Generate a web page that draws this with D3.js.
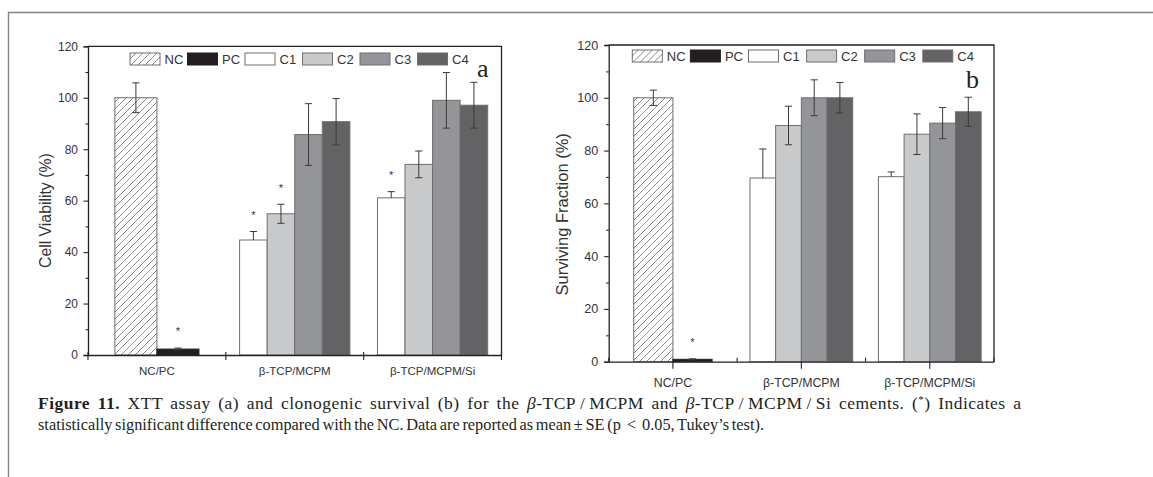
<!DOCTYPE html>
<html>
<head>
<meta charset="utf-8">
<script src="https://cdn.jsdelivr.net/npm/d3@7/dist/d3.min.js"></script>
<style>
  body { margin: 0; background: #fff; }
  svg { display: block; }
</style>
</head>
<body>
<svg id="svg" width="1153" height="477"></svg>
<script>
//グループ名・系列名
const groups = ["NC/PC", "β-TCP/MCPM", "β-TCP/MCPM/Si"];
const ctrlSeries = ["NC", "PC"];
const cementSeries = ["C1", "C2", "C3", "C4"];
const legendSeries = ["NC", "PC", "C1", "C2", "C3", "C4"];
const yTicks = [0, 20, 40, 60, 80, 100, 120];

// (a) XTT assay : 値と誤差
const viabilityCtrl = [100, 2.3];
const viabilityCtrlErr = [5.8, 0.4];
const viabilityMCPM = [44.7, 54.9, 85.7, 90.7];
const viabilityMCPMErr = [3.3, 3.7, 12.0, 9.0];
const viabilitySi = [61.1, 74.1, 99.0, 97.1];
const viabilitySiErr = [2.4, 5.2, 10.8, 8.9];
// 有意差（*）のある棒 [group, series]
const viabilitySig = [["NC/PC", "PC"], ["β-TCP/MCPM", "C1"], ["β-TCP/MCPM", "C2"], ["β-TCP/MCPM/Si", "C1"]];

// (b) clonogenic survival : 値と誤差
const survivalCtrl = [100, 0.9];
const survivalCtrlErr = [2.9, 0.2];
const survivalMCPM = [69.6, 89.5, 100, 100];
const survivalMCPMErr = [11.0, 7.3, 6.8, 5.8];
const survivalSi = [70.1, 86.2, 90.4, 94.7];
const survivalSiErr = [1.8, 7.7, 5.9, 5.5];
const survivalSig = [["NC/PC", "PC"]];

// C1 は上側の誤差棒のみ
const plusOnly = ["C1"];

const fills = { NC: "url(#hatch)", PC: "#231f20", C1: "#ffffff", C2: "#c9cacc", C3: "#949598", C4: "#636366" };

const svg = d3.select("#svg");

//斜線パターン
const defs = svg.append("defs");
defs.append("pattern")
  .attr("id", "hatch")
  .attr("patternUnits", "userSpaceOnUse")
  .attr("width", 7)
  .attr("height", 7)
  .call((p) => {
    p.append("rect").attr("width", 7).attr("height", 7).attr("fill", "#fff");
    p.append("path")
      .attr("d", "M-1,1 l2,-2 M0,7 l7,-7 M6,8 l2,-2")
      .attr("stroke", "#6a6a6a")
      .attr("stroke-width", 0.8);
  });

//外枠（上と左）
svg.append("path")
  .attr("d", "M8.5,477 L8.5,12.5 L1153,12.5")
  .attr("fill", "none")
  .attr("stroke", "#858585")
  .attr("stroke-width", 1.4);

//データを行にまとめる
function makeRows(ctrl, ctrlErr, mcpm, mcpmErr, si, siErr, sig) {
  const rows = [];
  ctrlSeries.forEach((s, i) => rows.push({ g: groups[0], s, v: ctrl[i], e: ctrlErr[i] }));
  cementSeries.forEach((s, i) => rows.push({ g: groups[1], s, v: mcpm[i], e: mcpmErr[i] }));
  cementSeries.forEach((s, i) => rows.push({ g: groups[2], s, v: si[i], e: siErr[i] }));
  rows.forEach((r) => (r.sig = sig.some(([g, s]) => g == r.g && s == r.s)));
  return rows;
}

//パネルを描画する
function drawPanel(cfg) {
  const { rows, left, right, top, bottom } = cfg;
  const panel = svg.append("g");

  const x = d3.scaleBand().domain(groups).range([left, right]).padding(0);
  const y = d3.scaleLinear().domain([0, 120]).range([bottom, top]);

  //グループ内の位置
  const inner = {};
  groups.forEach((g, i) => {
    const names = i == 0 ? ctrlSeries : cementSeries;
    const frac = i == 0 ? 0.61 : 0.8;
    const w = x.bandwidth() * frac;
    const c = x(g) + x.bandwidth() / 2;
    inner[g] = d3.scaleBand().domain(names).range([c - w / 2, c + w / 2]).padding(0);
  });

  //棒
  panel.selectAll(".bar")
    .data(rows)
    .join("rect")
    .attr("class", "bar")
    .attr("x", (d) => inner[d.g](d.s))
    .attr("y", (d) => y(d.v))
    .attr("width", (d) => inner[d.g].bandwidth())
    .attr("height", (d) => y(0) - y(d.v))
    .attr("fill", (d) => fills[d.s])
    .attr("stroke", (d) => (d.s == "PC" ? "#231f20" : "#6e6e6e"))
    .attr("stroke-width", 1);

  //誤差棒
  const cap = 3.6;
  const eb = panel.selectAll(".err")
    .data(rows)
    .join("g")
    .attr("class", "err")
    .attr("stroke", "#3a3a3a")
    .attr("stroke-width", 1)
    .attr("transform", (d) => `translate(${inner[d.g](d.s) + inner[d.g].bandwidth() / 2},0)`);
  eb.append("path")
    .attr("fill", "none")
    .attr("d", (d) => {
      const lo = plusOnly.includes(d.s) ? d.v : d.v - d.e;
      const y1 = y(d.v + d.e), y0 = y(lo);
      let p = `M0,${y0} L0,${y1} M${-cap},${y1} L${cap},${y1}`;
      if (!plusOnly.includes(d.s)) p += ` M${-cap},${y0} L${cap},${y0}`;
      return p;
    });

  //有意差マーク
  panel.selectAll(".star")
    .data(rows.filter((d) => d.sig))
    .join("text")
    .attr("class", "star")
    .attr("x", (d) => inner[d.g](d.s) + inner[d.g].bandwidth() / 2)
    .attr("y", (d) => y(d.v + d.e) - 19 + 6.4)
    .attr("text-anchor", "middle")
    .attr("font-family", "Liberation Sans, Arial, sans-serif")
    .attr("font-size", 11)
    .attr("fill", "#333")
    .text("*");

  //枠（上・右）
  panel.append("path")
    .attr("d", `M${left},${top} L${right},${top} L${right},${bottom}`)
    .attr("fill", "none")
    .attr("stroke", "#222")
    .attr("stroke-width", 1.3);

  //Y軸
  const yAxis = panel.append("g")
    .attr("transform", `translate(${left},0)`)
    .call(d3.axisLeft(y).tickValues(yTicks).tickSize(4.5).tickPadding(cfg.yPad));
  panel.append("g")
    .attr("transform", `translate(${left},0)`)
    .call(d3.axisLeft(y).tickValues(d3.range(10, 120, 20)).tickSize(2.5).tickFormat(""))
    .call((g) => g.select(".domain").remove());

  //X軸（ラベルのみ）
  const xAxis = panel.append("g")
    .attr("transform", `translate(0,${bottom})`)
    .call(d3.axisBottom(x).tickSize(0).tickPadding(cfg.xPad));
  xAxis.selectAll(".tick line").remove();

  [yAxis, xAxis].forEach((a) => {
    a.select(".domain").attr("stroke", "#222").attr("stroke-width", 1.3);
    a.selectAll("text")
      .attr("font-family", "Liberation Sans, Arial, sans-serif")
      .attr("fill", "#333");
  });
  yAxis.selectAll("text").attr("font-size", cfg.yFont);
  xAxis.selectAll("text").attr("font-size", cfg.xFont);
  panel.selectAll(".tick line").attr("stroke", "#222").attr("stroke-width", 1.1);

  //X軸の目盛り
  const bounds = d3.range(groups.length + 1).map((i) => left + x.step() * i);
  const centers = groups.map((g) => x(g) + x.bandwidth() / 2);
  panel.selectAll(".xb")
    .data(bounds)
    .join("line")
    .attr("x1", (d) => d).attr("x2", (d) => d)
    .attr("y1", bottom + cfg.boundTick[0]).attr("y2", bottom + cfg.boundTick[1])
    .attr("stroke", "#222").attr("stroke-width", 1.1);
  panel.selectAll(".xc")
    .data(centers)
    .join("line")
    .attr("x1", (d) => d).attr("x2", (d) => d)
    .attr("y1", bottom + cfg.centerTick[0]).attr("y2", bottom + cfg.centerTick[1])
    .attr("stroke", "#222").attr("stroke-width", 1.1);

  //Y軸タイトル
  panel.append("text")
    .attr("transform", `translate(${cfg.titleX},${(top + bottom) / 2 + cfg.titleDy}) rotate(-90)`)
    .attr("text-anchor", "middle")
    .attr("font-family", "Liberation Sans, Arial, sans-serif")
    .attr("font-size", cfg.titleFont)
    .attr("fill", "#333")
    .text(cfg.title);

  //凡例
  const lg = panel.selectAll(".legend")
    .data(legendSeries)
    .join("g")
    .attr("class", "legend")
    .attr("transform", (d, i) => `translate(${cfg.legendX + i * cfg.legendStep},${cfg.legendY})`);
  lg.append("rect")
    .attr("x", 0).attr("y", -6)
    .attr("width", 30).attr("height", 12)
    .attr("fill", (d) => fills[d])
    .attr("stroke", (d) => (d == "PC" ? "#231f20" : "#6e6e6e"))
    .attr("stroke-width", 1);
  lg.append("text")
    .attr("x", 34.5).attr("y", 4.7)
    .attr("font-family", "Liberation Sans, Arial, sans-serif")
    .attr("font-size", 13)
    .attr("fill", "#333")
    .text((d) => d);

  //パネル記号
  panel.append("text")
    .attr("x", cfg.letterPos[0]).attr("y", cfg.letterPos[1])
    .attr("font-family", "Liberation Serif, Times New Roman, serif")
    .attr("font-size", 26)
    .attr("fill", "#222")
    .text(cfg.letter);
}

drawPanel({
  rows: makeRows(viabilityCtrl, viabilityCtrlErr, viabilityMCPM, viabilityMCPMErr, viabilitySi, viabilitySiErr, viabilitySig),
  left: 88, right: 501.5, top: 46.3, bottom: 355,
  yPad: 5.5, yFont: 12, xPad: 11.8, xFont: 11.5,
  boundTick: [-3, 5], centerTick: [0, 0],
  title: "Cell Viability (%)", titleX: 51, titleDy: 10, titleFont: 15.8,
  legendX: 130, legendY: 59, legendStep: 57.5,
  letter: "a", letterPos: [477, 77]
});

drawPanel({
  rows: makeRows(survivalCtrl, survivalCtrlErr, survivalMCPM, survivalMCPMErr, survivalSi, survivalSiErr, survivalSig),
  left: 608.7, right: 994, top: 45, bottom: 361.7,
  yPad: 6, yFont: 12.6, xPad: 16.3, xFont: 12.3,
  boundTick: [-4, 0], centerTick: [0, 7],
  title: "Surviving Fraction (%)", titleX: 567.5, titleDy: 11, titleFont: 16.5,
  legendX: 632.3, legendY: 56, legendStep: 58.1,
  letter: "b", letterPos: [966, 88]
});

//キャプション（両端揃え）
function justify(textSel, target) {
  const node = textSel.node();
  const natural = node.getComputedTextLength();
  const spaces = (node.textContent.match(/ /g) || []).length;
  const gap = target - natural;
  //広げる時は語間に半分、残りは字間で調整
  const ws = gap > 0 ? (gap * 0.45) / spaces : Math.max(gap / spaces, -1.5);
  textSel.attr("word-spacing", ws);
  const now = node.getComputedTextLength();
  if (Math.abs(now - target) > 1) {
    textSel
      .attr("textLength", target)
      .attr("lengthAdjust", gap > 0 ? "spacing" : "spacingAndGlyphs");
  }
}

const caption = svg.append("g")
  .attr("font-family", "Liberation Serif, Times New Roman, serif")
  .attr("font-size", 17.5)
  .attr("fill", "#231f20");
const line1 = caption.append("text").attr("x", 38).attr("y", 408.5);
line1.append("tspan").attr("font-weight", "bold").text("Figure 11.");
line1.append("tspan").text(" XTT assay (a) and clonogenic survival (b) for the ");
line1.append("tspan").attr("font-style", "italic").text("β");
line1.append("tspan").text("-TCP\u2009/\u2009MCPM and ");
line1.append("tspan").attr("font-style", "italic").text("β");
line1.append("tspan").text("-TCP\u2009/\u2009MCPM\u2009/\u2009Si cements. (");
line1.append("tspan").attr("font-size", 11).attr("dy", -6).text("*");
line1.append("tspan").attr("dy", 6).text(") Indicates a");
justify(line1, 983);

const line2 = caption.append("text").attr("x", 38).attr("y", 429.5)
  .text("statistically significant difference compared with the NC. Data are reported as mean \u00b1 SE (p \u2009<\u2009 0.05, Tukey\u2019s test).");
justify(line2, 726);
</script>
</body>
</html>
